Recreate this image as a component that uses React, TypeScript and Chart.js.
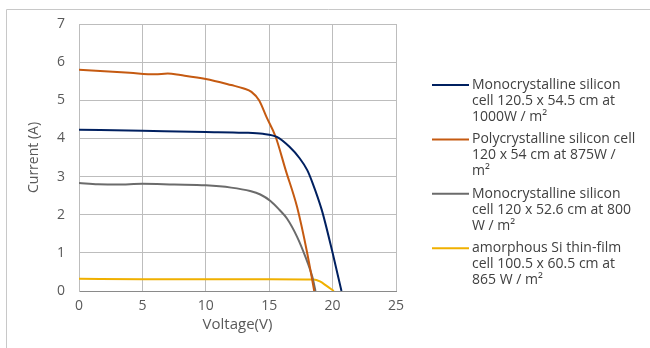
import React, { useEffect, useRef } from "react";
import { Chart, registerables } from "chart.js";

Chart.register(...registerables);

const seriesNames = [
  ["Monocrystalline silicon", "cell 120.5 x 54.5 cm at", "1000W / m²"],
  ["Polycrystalline silicon cell", "120 x 54 cm at 875W /", "m²"],
  ["Monocrystalline silicon", "cell 120 x 52.6 cm at 800", "W / m²"],
  ["amorphous Si thin-film", "cell 100.5 x 60.5 cm at", "865 W / m²"],
];
const seriesColors = ["#002060", "#c55a11", "#6b6b6b", "#f0b000"];

const monoVoltage = [0, 5, 10, 13, 14.5, 15.6, 16.6, 17.4, 18, 18.4, 19.15, 20, 20.7];
const monoCurrent = [4.23, 4.2, 4.17, 4.15, 4.12, 4.04, 3.78, 3.48, 3.17, 2.85, 2.12, 1.0, 0];

const polyVoltage = [0, 2, 4, 6, 7, 8, 10, 12, 13, 13.6, 14.2, 14.8, 15.5, 16.3, 17.2, 18, 18.55];
const polyCurrent = [5.8, 5.76, 5.72, 5.68, 5.7, 5.66, 5.56, 5.4, 5.31, 5.22, 5.0, 4.55, 4.05, 3.17, 2.2, 0.99, 0];

const mono2Voltage = [0, 1.5, 3, 5, 7.5, 10, 12, 13.5, 14.3, 15.1, 15.8, 16.4, 17.2, 17.85, 18.4, 18.65];
const mono2Current = [2.83, 2.8, 2.79, 2.81, 2.79, 2.77, 2.71, 2.62, 2.53, 2.36, 2.13, 1.9, 1.42, 0.9, 0.37, 0];

const amorphVoltage = [0, 5, 10, 15, 18.5, 19, 19.5, 20.1];
const amorphCurrent = [0.32, 0.31, 0.31, 0.31, 0.3, 0.25, 0.14, 0];

const xTicks = [0, 5, 10, 15, 20, 25];
const yTicks = [0, 1, 2, 3, 4, 5, 6, 7];

const seriesVoltage = [monoVoltage, polyVoltage, mono2Voltage, amorphVoltage];
const seriesCurrent = [monoCurrent, polyCurrent, mono2Current, amorphCurrent];

const FONT = "'Open Sans', sans-serif";

const legendPlugin = {
  id: "customLegend",
  beforeDraw(chart: any) {
    const ctx = chart.ctx;
    ctx.save();
    ctx.strokeStyle = "#c8c8c8";
    ctx.lineWidth = 1;
    ctx.beginPath();
    ctx.moveTo(6.5, 348);
    ctx.lineTo(6.5, 9.5);
    ctx.lineTo(650, 9.5);
    ctx.stroke();
    ctx.restore();
  },
  afterDraw(chart: any) {
    const ctx = chart.ctx;
    ctx.save();
    const x0 = 432;
    const lineEnd = 469;
    const textX = 472;
    let y = 85;
    ctx.font = `14px ${FONT}`;
    ctx.textBaseline = "middle";
    ctx.textAlign = "left";
    chart.data.datasets.forEach((ds: any, i: number) => {
      ctx.strokeStyle = ds.borderColor;
      ctx.lineWidth = 2;
      ctx.beginPath();
      ctx.moveTo(x0, y);
      ctx.lineTo(lineEnd, y);
      ctx.stroke();
      ctx.fillStyle = "#404040";
      const lines = seriesNames[i];
      lines.forEach((t, j) => ctx.fillText(t, textX, y + j * 16));
      y += 54.4;
    });
    ctx.restore();
  },
};

export default function App() {
  const ref = useRef<HTMLCanvasElement>(null);
  useEffect(() => {
    document.body.style.margin = "0";
    const datasets = seriesNames.map((n, i) => ({
      label: n.join(" "),
      data: seriesVoltage[i].map((v, k) => ({ x: v, y: seriesCurrent[i][k] })),
      borderColor: seriesColors[i],
      backgroundColor: seriesColors[i],
      borderWidth: 2,
      pointRadius: 0,
      showLine: true,
      tension: 0.35,
      cubicInterpolationMode: "monotone" as const,
      fill: false,
    }));
    const chart = new Chart(ref.current!, {
      type: "scatter",
      data: { datasets },
      options: {
        animation: false,
        responsive: false,
        layout: { padding: { left: 26, top: 24, right: 254, bottom: 10 } },
        plugins: { legend: { display: false }, tooltip: { enabled: false } },
        scales: {
          x: {
            type: "linear",
            min: 0,
            max: 25,
            afterBuildTicks: (s: any) => {
              s.ticks = xTicks.map((v) => ({ value: v }));
            },
            afterFit: (s: any) => {
              s.height = 348 - 291 - 10;
            },
            grid: { color: "#bdbdbd", drawTicks: false },
            border: { color: "#8a8a8a" },
            ticks: { color: "#595959", font: { family: FONT, size: 14 }, padding: 7 },
            title: {
              display: true,
              text: "Voltage(V)",
              color: "#595959",
              font: { family: FONT, size: 15 },
              padding: { top: 0 },
            },
          },
          y: {
            type: "linear",
            min: 0,
            max: 7,
            afterBuildTicks: (s: any) => {
              s.ticks = yTicks.map((v) => ({ value: v }));
            },
            afterFit: (s: any) => {
              s.width = 79 - 26;
            },
            grid: { color: "#bdbdbd", drawTicks: false },
            border: { color: "#bdbdbd" },
            ticks: { color: "#595959", font: { family: FONT, size: 14 }, padding: 14 },
            title: {
              display: true,
              text: "Current (A)",
              color: "#595959",
              font: { family: FONT, size: 14 },
              padding: { top: 0, bottom: 4 },
            },
          },
        },
      },
      plugins: [legendPlugin],
    });
    return () => chart.destroy();
  }, []);
  return <canvas ref={ref} width={650} height={348} style={{ display: "block" }} />;
}
